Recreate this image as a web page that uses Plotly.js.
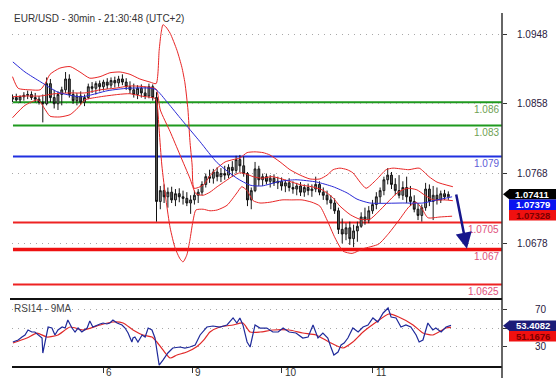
<!DOCTYPE html>
<html><head><meta charset="utf-8">
<script src="https://cdn.plot.ly/plotly-3.0.1.min.js"></script>
<style>html,body{margin:0;padding:0;background:#fff}#chart{width:556px;height:381px}</style>
</head><body><div id="chart"></div>
<script>
// ---------- DATA ----------
const chartTitle = 'EUR/USD - 30min - 21:30:48 (UTC+2)';
const rsiTitle = 'RSI14 - 9MA';

const open = [
1.0864,1.0866,1.0863,1.0867,1.0869,1.0870,1.0866,1.0864,1.0860,1.0858,
1.0884,1.0866,1.0858,1.0870,1.0876,1.0890,1.0870,1.0862,1.0868,1.0860,
1.0866,1.0880,1.0878,1.0884,1.0880,1.0886,1.0882,1.0888,1.0885,1.0890,
1.0886,1.0880,1.0876,1.0870,1.0878,1.0872,1.0868,1.0880,1.0866,1.0732,
1.0746,1.0738,1.0744,1.0734,1.0742,1.0738,1.0736,1.0730,1.0734,1.0740,
1.0744,1.0754,1.0764,1.0762,1.0770,1.0764,1.0768,1.0766,1.0776,1.0772,
1.0786,1.0778,1.0768,1.0734,1.0746,1.0774,1.0760,1.0764,1.0758,1.0762,
1.0756,1.0758,1.0752,1.0756,1.0750,1.0748,1.0752,1.0744,1.0750,1.0746,
1.0748,1.0754,1.0744,1.0740,1.0734,1.0730,1.0720,1.0696,1.0690,1.0698,
1.0684,1.0694,1.0700,1.0712,1.0708,1.0720,1.0728,1.0738,1.0746,1.0760,
1.0766,1.0754,1.0746,1.0740,1.0750,1.0738,1.0732,1.0722,1.0714,1.0724,
1.0748,1.0732,1.0740,1.0734,1.0742,1.0738];
const high = [
1.0870,1.0871,1.0869,1.0873,1.0875,1.0874,1.0872,1.0868,1.0870,1.0892,
1.0890,1.0876,1.0874,1.0880,1.0899,1.0896,1.0876,1.0872,1.0874,1.0870,
1.0884,1.0886,1.0887,1.0888,1.0889,1.0891,1.0892,1.0893,1.0894,1.0896,
1.0891,1.0887,1.0884,1.0882,1.0883,1.0880,1.0884,1.0883,1.0873,1.0752,
1.0754,1.0750,1.0751,1.0748,1.0749,1.0746,1.0744,1.0740,1.0746,1.0748,
1.0758,1.0768,1.0773,1.0774,1.0776,1.0775,1.0778,1.0780,1.0784,1.0791,
1.0792,1.0790,1.0770,1.0750,1.0783,1.0778,1.0768,1.0768,1.0766,1.0767,
1.0764,1.0763,1.0760,1.0762,1.0758,1.0756,1.0757,1.0754,1.0755,1.0754,
1.0764,1.0758,1.0750,1.0746,1.0740,1.0736,1.0724,1.0710,1.0704,1.0706,
1.0702,1.0706,1.0718,1.0724,1.0726,1.0734,1.0744,1.0750,1.0764,1.0775,
1.0770,1.0762,1.0766,1.0758,1.0764,1.0752,1.0740,1.0730,1.0728,1.0756,
1.0754,1.0752,1.0750,1.0746,1.0747,1.0745];
const low = [
1.0860,1.0861,1.0859,1.0862,1.0864,1.0863,1.0860,1.0857,1.0834,1.0856,
1.0860,1.0852,1.0850,1.0856,1.0872,1.0866,1.0858,1.0856,1.0857,1.0855,
1.0864,1.0872,1.0870,1.0874,1.0875,1.0877,1.0878,1.0879,1.0880,1.0882,
1.0876,1.0871,1.0866,1.0864,1.0866,1.0864,1.0865,1.0862,1.0706,1.0722,
1.0730,1.0724,1.0730,1.0726,1.0731,1.0728,1.0726,1.0716,1.0728,1.0730,
1.0740,1.0750,1.0756,1.0755,1.0758,1.0757,1.0760,1.0762,1.0764,1.0768,
1.0770,1.0764,1.0726,1.0722,1.0744,1.0752,1.0752,1.0754,1.0750,1.0752,
1.0748,1.0746,1.0744,1.0745,1.0742,1.0740,1.0739,1.0738,1.0740,1.0738,
1.0744,1.0740,1.0734,1.0728,1.0722,1.0716,1.0690,1.0678,1.0682,1.0676,
1.0673,1.0680,1.0698,1.0702,1.0704,1.0716,1.0722,1.0730,1.0740,1.0754,
1.0748,1.0740,1.0736,1.0734,1.0730,1.0726,1.0718,1.0708,1.0706,1.0720,
1.0726,1.0708,1.0728,1.0730,1.0734,1.0734];
const close = [
1.0866,1.0863,1.0867,1.0869,1.0870,1.0866,1.0864,1.0860,1.0858,1.0884,
1.0866,1.0858,1.0870,1.0876,1.0890,1.0870,1.0862,1.0868,1.0860,1.0866,
1.0880,1.0878,1.0884,1.0880,1.0886,1.0882,1.0888,1.0885,1.0890,1.0886,
1.0880,1.0876,1.0870,1.0878,1.0872,1.0868,1.0880,1.0866,1.0732,1.0746,
1.0738,1.0744,1.0734,1.0742,1.0738,1.0736,1.0730,1.0734,1.0740,1.0744,
1.0754,1.0764,1.0762,1.0770,1.0764,1.0768,1.0766,1.0776,1.0772,1.0786,
1.0778,1.0768,1.0734,1.0746,1.0774,1.0760,1.0764,1.0758,1.0762,1.0756,
1.0758,1.0752,1.0756,1.0750,1.0748,1.0752,1.0744,1.0750,1.0746,1.0748,
1.0754,1.0744,1.0740,1.0734,1.0730,1.0720,1.0696,1.0690,1.0698,1.0684,
1.0694,1.0700,1.0712,1.0708,1.0720,1.0728,1.0738,1.0746,1.0760,1.0766,
1.0754,1.0746,1.0740,1.0750,1.0738,1.0732,1.0722,1.0714,1.0724,1.0748,
1.0732,1.0740,1.0734,1.0742,1.0738,1.07411];
const barHour = open.map((_, i) => i); // hours since first bar

const bbUpperHour = [0,1.5,4.6,7.3,8.6,9.9,12.5,15.2,17.8,20.4,23.1,25.7,28.4,31.0,33.6,36.3,37.9,38.7,39.2,39.7,
 40.5,41.6,43.4,44.7,45.5,46.3,46.8,47.4,47.9,50.3,52.1,54.0,56.1,58.2,60.0,61.9,64.0,66.1,67.9,70.6,
 73.2,75.9,78.5,81.1,83.0,84.6,86.4,88.3,89.8,91.7,93.3,96.0,98.6,100.4,104.6,107.3,109.9,112.0,116.2];
const bbUpper = [1.0893,1.0878,1.0876,1.0876,1.0884,1.0896,1.0904,1.0906,1.0899,1.0891,1.0893,1.0898,1.0899,1.0896,1.0890,1.0886,1.0884,1.0927,1.0949,1.0960,
 1.0957,1.0949,1.0927,1.0905,1.0885,1.0850,1.0811,1.0779,1.0749,1.0753,1.0765,1.0775,1.0783,1.0786,1.0788,1.0795,1.0796,1.0795,1.0792,1.0783,
 1.0773,1.0766,1.0761,1.0761,1.0766,1.0773,1.0775,1.0773,1.0769,1.0757,1.0749,1.0760,1.0773,1.0775,1.0773,1.0775,1.0764,1.0757,1.0751];

const bbMidHour = [0,3.3,7.3,11.2,15.2,19.1,23.1,27.0,31.0,35.0,37.9,39.0,41.6,44.2,46.8,48.4,50.3,52.1,54.0,56.1,
 58.2,60.0,61.9,63.5,65.8,68.5,71.1,73.7,76.4,79.0,81.7,84.3,86.4,89.1,91.7,94.3,96.4,98.8,101.5,104.1,
 106.7,108.8,111.0,114.1,116.2];
const bbMid = [1.0867,1.0868,1.0868,1.0871,1.0872,1.0872,1.0876,1.0878,1.0881,1.0880,1.0877,1.0850,1.0822,1.0792,1.0762,1.0742,1.0740,1.0744,1.0751,1.0758,
 1.0765,1.0769,1.0767,1.0764,1.0762,1.0764,1.0761,1.0757,1.0753,1.0751,1.0747,1.0738,1.0726,1.0715,1.0709,1.0709,1.0718,1.0730,1.0743,1.0749,
 1.0747,1.0740,1.0734,1.0734,1.0733];

const bbLowerHour = [0,3.3,6.7,8.3,9.9,12.5,15.2,17.3,19.1,23.1,27.8,31.0,33.9,37.6,38.1,38.7,39.4,40.5,41.6,42.9,
 44.2,45.0,46.0,46.8,47.6,48.4,50.3,52.1,54.0,56.6,59.2,60.5,61.9,63.5,65.3,67.9,71.1,73.7,76.4,79.0,
 81.1,83.0,85.1,87.2,89.6,92.5,96.6,99.3,102.0,104.6,106.5,108.0,109.6,112.8,116.0];
const bbLower = [1.0840,1.0856,1.0863,1.0853,1.0842,1.0841,1.0844,1.0853,1.0863,1.0867,1.0870,1.0871,1.0868,1.0865,1.0860,1.0824,1.0779,1.0734,1.0698,1.0672,
 1.0658,1.0654,1.0663,1.0682,1.0706,1.0721,1.0722,1.0720,1.0721,1.0727,1.0743,1.0751,1.0746,1.0733,1.0730,1.0731,1.0734,1.0734,1.0734,1.0731,
 1.0726,1.0708,1.0685,1.0668,1.0665,1.0671,1.0677,1.0691,1.0708,1.0725,1.0731,1.0723,1.0711,1.0712,1.0713];

const maHour = [0.1,3.3,7.5,12.0,18.1,25.2,30.5,37.6,41.0,44.7,49.5,54.0,59.2,62.7,65.8,70.6,74.8,80.3,84.6,88.3,
 90.9,94.3,103.0,108.3,112.0,116.0];
const maValue = [1.0912,1.0899,1.0886,1.0873,1.0867,1.0875,1.0878,1.0877,1.0859,1.0837,1.0809,1.0782,1.0762,1.0753,1.0752,1.0758,1.0760,1.0757,1.0751,1.0743,
 1.0735,1.0730,1.0730,1.0730,1.0734,1.0738];

const levelValues = [1.086, 1.083, 1.079, 1.0705, 1.067, 1.0625];
const levelLabels = ['1.086', '1.083', '1.079', '1.0705', '1.067', '1.0625'];

const priceTicks = [1.0678, 1.0768, 1.0858, 1.0948];
const priceTickText = ['1.0678', '1.0768', '1.0858', '1.0948'];

const rsiHour = [0.1,1.5,2.5,3.3,4.1,5.1,5.9,6.7,7.8,8.0, 8.6,9.4,10.4,11.2,12.0,13.1,13.9,14.6,15.7,16.5,
 17.3,18.3,19.7,20.4,21.2,22.3,23.1,23.9,24.9,25.7, 26.5,27.6,28.9,29.7,30.5,31.5,31.8,32.3,33.1,34.2,
 35.0,35.8,36.8,37.6,38.1,38.7,39.7,41.0,42.3,44.2, 45.5,46.8,48.2,49.0,49.5,51.3,52.9,54.7,56.6,58.2,
 59.2,60.0,60.8,61.9,62.7,64.0,65.3,67.1,68.7,70.1, 71.4,73.0,74.8,76.6,78.0,79.3,80.6,81.9,83.2,84.0,
 84.8,85.9,86.7,87.5,88.5,89.8,91.2,92.5,93.8,95.1, 96.4,97.8,99.1,99.9,101.2,102.5,103.8,105.1,106.5,107.3,
 108.3,109.6,110.9,111.7,113.1,114.4,115.7];
const rsiValue = [35.4,37.6,40.8,43.0,48.4,46.2,46.2,43.0,39.7,23.5, 35.4,51.6,50.5,43.0,48.4,51.6,50.5,59.2,50.5,46.2,
 50.5,46.2,50.5,58.1,51.6,53.8,54.9,55.9,54.9,55.9, 59.2,55.9,53.8,50.5,45.1,35.4,39.7,40.8,35.4,43.0,
 40.8,50.5,48.4,39.7,23.5,10.5,15.9,23.5,28.9,30.0, 28.9,30.0,32.2,39.7,43.0,51.6,52.7,51.6,53.8,61.4,
 55.9,61.4,53.8,35.4,30.0,53.8,50.5,50.5,46.2,46.2, 50.5,46.2,45.1,39.7,40.8,53.8,39.7,45.1,39.7,30.0,
 21.4,24.6,32.2,34.3,39.7,50.5,46.2,51.6,53.8,61.4, 57.0,66.8,72.2,62.4,61.4,51.6,53.8,51.6,43.0,35.4,
 37.6,55.9,48.4,50.5,46.2,51.6,53.4082];

const rsiMaHour = [0.1,3.8,6.5,9.1,12.0,15.2,18.6,23.1,26.5,29.2, 31.8,34.4,36.8,38.1,39.7,41.6,43.4,46.0,48.7,50.5,
 52.1,54.7,58.2,60.8,62.7,65.3,68.7,73.0,76.6,80.1, 83.5,87.2,89.8,92.5,96.0,99.3,101.9,105.7,108.3,110.9,
 114.4,115.7];
const rsiMaValue = [34.3,39.7,45.1,40.8,43.0,51.6,48.4,53.8,57.0,55.9, 48.4,43.0,40.8,35.4,26.8,18.1,21.4,24.6,30.5,37.6,
 46.2,51.6,53.8,55.9,46.2,46.2,48.4,48.4,45.1,43.0, 35.4,28.9,35.4,46.2,57.0,65.7,62.4,53.8,45.1,43.0,
 50.5,51.1676];

const dayTickHour = [23.9, 47.4, 71.1, 95.1];
const dayLabels = ['6', '9', '10', '11'];

const lastPriceLabels = ['1.07411', '1.07379', '1.07328'];
const lastRsiLabels = ['53.4082', '51.1676'];

const arrowTail = [117.0, 1.0743];
const arrowHead = [119.9, 1.0671];

// ---------- STYLE / LAYOUT ----------
const F = 'Liberation Sans, Arial, sans-serif';
const PL = 12, PR = 502, PT = 12, PB = 366;
const px = x => (x - PL) / (PR - PL);
const py = y => 1 - (y - PT) / (PB - PT);

const levelStyles = [
  {color:'#1f9a1f', width:2, label:'#6f9f55'},
  {color:'#1f9a1f', width:2, label:'#6f9f55'},
  {color:'#2030e0', width:2, label:'#5c5cd6'},
  {color:'#ee2222', width:2, label:'#e0507a'},
  {color:'#ee1111', width:3.5, label:'#e0507a'},
  {color:'#ee2222', width:2, label:'#e0507a'}
];

const traces = [
  {type:'candlestick', x:barHour, open:open, high:high, low:low, close:close,
   xaxis:'x', yaxis:'y', hoverinfo:'skip', showlegend:false, whiskerwidth:0,
   increasing:{line:{color:'#1a1a1a', width:1}, fillcolor:'#8a8a8a'},
   decreasing:{line:{color:'#111111', width:1}, fillcolor:'#5a5a5a'}},
  {type:'scatter', mode:'lines', x:bbUpperHour, y:bbUpper, line:{color:'#e82626', width:1, shape:'spline', smoothing:0.6}, hoverinfo:'skip', showlegend:false},
  {type:'scatter', mode:'lines', x:bbMidHour, y:bbMid, line:{color:'#e82626', width:1, shape:'spline', smoothing:0.6}, hoverinfo:'skip', showlegend:false},
  {type:'scatter', mode:'lines', x:bbLowerHour, y:bbLower, line:{color:'#e82626', width:1, shape:'spline', smoothing:0.6}, hoverinfo:'skip', showlegend:false},
  {type:'scatter', mode:'lines', x:maHour, y:maValue, line:{color:'#2a2ad6', width:1, shape:'spline', smoothing:0.6}, hoverinfo:'skip', showlegend:false},
  {type:'scatter', mode:'lines', x:rsiMaHour, y:rsiMaValue, xaxis:'x', yaxis:'y2', line:{color:'#e02828', width:1.2, shape:'spline', smoothing:0.6}, hoverinfo:'skip', showlegend:false},
  {type:'scatter', mode:'lines', x:rsiHour, y:rsiValue, xaxis:'x', yaxis:'y2', line:{color:'#1f2a9a', width:1.2}, hoverinfo:'skip', showlegend:false}
];

const shapes = [];
const annotations = [];

levelValues.forEach((v, i) => {
  shapes.push({type:'line', layer:'below', xref:'paper', yref:'y', x0:0.002, x1:1, y0:v, y1:v,
    line:{color:levelStyles[i].color, width:levelStyles[i].width}});
  annotations.push({xref:'paper', yref:'y', x:px(501), y:v, yshift:-7, xanchor:'right', yanchor:'middle',
    text:levelLabels[i], showarrow:false, font:{family:F, size:10, color:levelStyles[i].label}});
});

// frame lines
shapes.push({type:'line', xref:'paper', yref:'paper', x0:1, x1:1, y0:py(378), y1:py(13), line:{color:'#333', width:1.5}});
shapes.push({type:'line', xref:'paper', yref:'paper', x0:px(10), x1:1, y0:py(299), y1:py(299), line:{color:'#111', width:2}});

// value boxes on the right
const boxes = [
  {text:lastPriceLabels[0], y0:189, y1:199.5, fill:'#000000', font:'#ffffff', tip:true},
  {text:lastPriceLabels[1], y0:199.5, y1:210, fill:'#0a14f0', font:'#ffffff', tip:false},
  {text:lastPriceLabels[2], y0:210, y1:220.5, fill:'#f01010', font:'#7a0000', tip:false},
  {text:lastRsiLabels[0], y0:320.5, y1:331, fill:'#1c1c78', font:'#ffffff', tip:true},
  {text:lastRsiLabels[1], y0:331, y1:341.5, fill:'#f01010', font:'#7a0000', tip:false}
];
boxes.forEach(b => {
  shapes.push({type:'rect', xref:'paper', yref:'paper', x0:px(509), x1:px(556), y0:py(b.y1), y1:py(b.y0),
    fillcolor:b.fill, line:{width:0}});
  if (b.tip) {
    const m = (b.y0 + b.y1) / 2;
    shapes.push({type:'path', xref:'paper', yref:'paper',
      path:`M ${px(503)} ${py(m)} L ${px(509.5)} ${py(b.y0)} L ${px(509.5)} ${py(b.y1)} Z`,
      fillcolor:b.fill, line:{width:0}});
  }
  annotations.push({xref:'paper', yref:'paper', x:px(532.5), y:py((b.y0 + b.y1) / 2), xanchor:'center', yanchor:'middle',
    text:'<b>' + b.text + '</b>', showarrow:false, borderpad:0, font:{family:F, size:9.5, color:b.font}});
});

// titles
annotations.push({xref:'paper', yref:'paper', x:px(12), y:py(19), xanchor:'left', yanchor:'middle',
  text:chartTitle, showarrow:false, font:{family:F, size:10, color:'#333'}});
annotations.push({xref:'paper', yref:'paper', x:px(12), y:py(308), xanchor:'left', yanchor:'middle',
  text:rsiTitle, showarrow:false, font:{family:F, size:10, color:'#444'}});

// day labels
dayTickHour.forEach((h, i) => {
  annotations.push({xref:'x', yref:'paper', x:h, y:py(372.5), xshift:1, xanchor:'left', yanchor:'middle',
    text:dayLabels[i], showarrow:false, font:{family:F, size:10, color:'#333'}});
});

// forecast arrow
annotations.push({xref:'x', yref:'y', axref:'x', ayref:'y', x:arrowHead[0], y:arrowHead[1],
  ax:arrowTail[0], ay:arrowTail[1], text:'', showarrow:true, arrowhead:2, arrowsize:1.3, arrowwidth:2.5, arrowcolor:'#16168c'});

const layout = {
  width:556, height:381,
  margin:{l:PL, r:556 - PR, t:PT, b:381 - PB, pad:0},
  paper_bgcolor:'#ffffff', plot_bgcolor:'#ffffff',
  showlegend:false,
  xaxis:{range:[-0.13, 129.16], anchor:'y2', showgrid:false, zeroline:false,
    showline:true, linecolor:'#111', linewidth:1.5,
    tickmode:'array', tickvals:dayTickHour, ticks:'outside', ticklen:5, tickcolor:'#333', tickwidth:1,
    showticklabels:false, rangeslider:{visible:false}, fixedrange:true},
  yaxis:{domain:[0.195, 1], range:[1.06088, 1.09764], side:'right', anchor:'x',
    tickmode:'array', tickvals:priceTicks, ticktext:priceTickText,
    ticks:'outside', ticklen:4, tickcolor:'#333', ticklabelstandoff:8,
    showgrid:true, gridcolor:'#a8a8a8', griddash:'1px,5px', gridwidth:1,
    zeroline:false, showline:false,
    tickfont:{family:F, size:10, color:'#2a2040'}, fixedrange:true},
  yaxis2:{domain:[0, 0.1893], range:[9.46, 81.9], side:'right', anchor:'x',
    tickmode:'array', tickvals:[30, 50, 70], ticktext:['30', '', '70'],
    ticks:'outside', ticklen:4, tickcolor:'#333', ticklabelstandoff:26,
    showgrid:true, gridcolor:'#a8a8a8', griddash:'1px,5px', gridwidth:1,
    zeroline:false, showline:false,
    tickfont:{family:F, size:10, color:'#2a2040'}, fixedrange:true},
  shapes:shapes,
  annotations:annotations
};

Plotly.newPlot('chart', traces, layout, {displayModeBar:false, staticPlot:true});
</script>
</body></html>
